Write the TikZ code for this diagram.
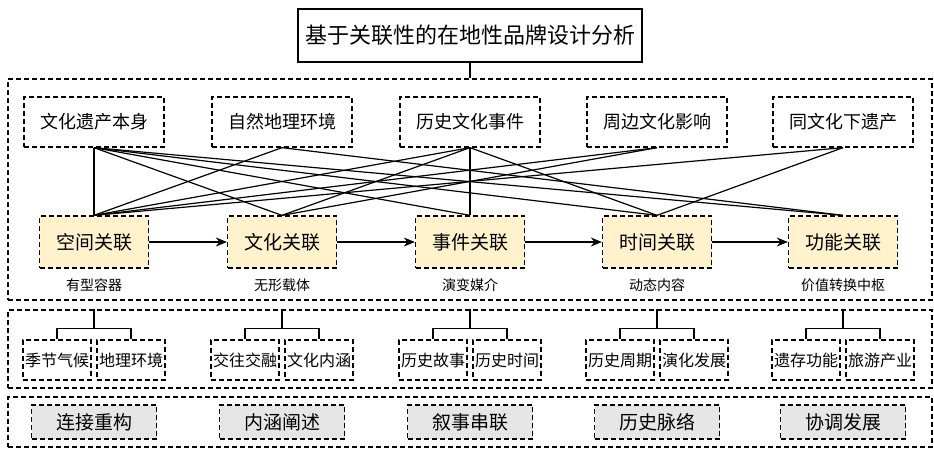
\documentclass[tikz,border=0pt]{standalone}
\usepackage{fontspec}
\setmainfont{Noto Sans CJK SC}
\usetikzlibrary{arrows.meta}

\definecolor{linkfill}{HTML}{FFF2CC}
\definecolor{endfill}{HTML}{E6E6E6}

\tikzset{
    dashbox/.style={draw, dash pattern=on 5pt off 3pt, line width=1.3pt, inner sep=0pt},
    topbox/.style={dashbox, minimum width=140pt, minimum height=50pt, font=\fontsize{18}{20}\selectfont},
    linkbox/.style={dashbox, fill=linkfill, minimum width=109pt, minimum height=52pt, font=\fontsize{19}{21}\selectfont},
    subbox/.style={dashbox, minimum width=68pt, minimum height=40pt, font=\fontsize{16}{18}\selectfont},
    endbox/.style={dashbox, fill=endfill, minimum width=125pt, minimum height=34pt, font=\fontsize{19}{21}\selectfont},
    frame/.style={dashbox, minimum width=924pt},
    note/.style={font=\fontsize{14}{16}\selectfont},
    link/.style={line width=1.2pt},
}

\begin{document}
\begin{tikzpicture}[x=1pt,y=-1pt]

    \useasboundingbox (0,0) rectangle (934,448);

    \node[draw, line width=1.2pt, minimum width=344pt, minimum height=53pt, font=\fontsize{22}{24}\selectfont] (title) at (470,35.5) {基于关联性的在地性品牌设计分析};

    \node[frame, minimum height=221pt] (f1) at (470,189.5) {};
    \node[frame, minimum height=78pt] (f2) at (470,349) {};
    \node[frame, minimum height=50pt] (f3) at (470,422) {};

    \draw[link] (title) -- (f1);

    \foreach \i/\x/\t in {1/94/文化遗产本身, 2/282/自然地理环境, 3/470/历史文化事件, 4/657/周边文化影响, 5/843/同文化下遗产}
    \node[topbox] (t\i) at (\x,122) {\t};

    \foreach \i/\x/\t/\n in {1/94/空间关联/有型容器, 2/282/文化关联/无形载体, 3/470/事件关联/演变媒介, 4/657/时间关联/动态内容, 5/843/功能关联/价值转换中枢}{
        \node[linkbox] (b\i) at (\x,242) {\t};
        \node[note] (n\i) at (\x,285) {\n};
    }

    \foreach \i [count=\j from 2] in {1,...,4}
    \draw[link, -{Stealth[length=11pt,width=9pt]}] (b\i) -- (b\j);

    \foreach \a/\b in {1/1,1/2,1/3,1/4,1/5,2/1,2/5,3/1,3/2,3/3,3/4,4/1,4/2,5/1,5/4}
    \draw[link] (t\a.south) -- (b\b.north);

    \foreach \i/\x/\l/\r in {1/94/季节气候/地理环境, 2/282/交往交融/文化内涵, 3/470/历史故事/历史时间, 4/657/历史周期/演化发展, 5/843/遗存功能/旅游产业}{
        \node[subbox] (sl\i) at (\x-37,360) {\l};
        \node[subbox] (sr\i) at (\x+37,360) {\r};
        \draw[link] (b\i |- f2.north) -- ++(0,19) coordinate (k\i) -| (sl\i.north);
        \draw[link] (k\i) -| (sr\i.north);
    }

    \foreach \i/\x/\t in {1/94/连接重构, 2/282/内涵阐述, 3/470/叙事串联, 4/657/历史脉络, 5/843/协调发展}
    \node[endbox] (e\i) at (\x,422) {\t};

\end{tikzpicture}
\end{document}
